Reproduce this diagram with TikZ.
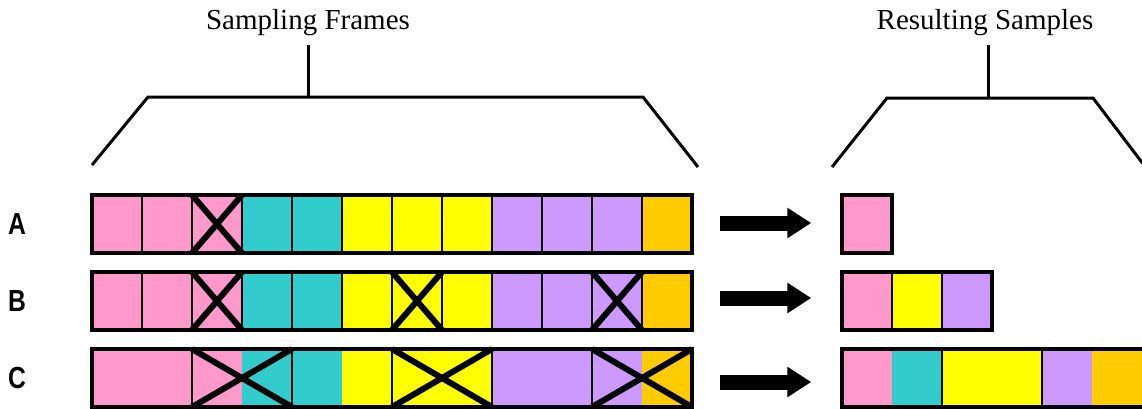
\documentclass[tikz,border=0pt]{standalone}
\usepackage{fontspec}
\setmainfont{Liberation Serif}
\newfontfamily\lblfont{Liberation Sans}
\usetikzlibrary{arrows.meta}
\definecolor{cpink}{HTML}{FF99CC}
\definecolor{cteal}{HTML}{33CCCC}
\definecolor{cyellow}{HTML}{FFFF00}
\definecolor{cpurple}{HTML}{CC99FF}
\definecolor{corange}{HTML}{FFCC00}
\begin{document}
\begin{tikzpicture}[x=1pt,y=-1pt,
  sep/.style={draw=black, line width=2.8pt},
  framebox/.style={draw=black, line width=3.5pt, rectangle, inner sep=0pt},
  cross/.style={draw=black, line width=6pt, line cap=butt},
  bracket/.style={draw=black, line width=3pt},
  bigarrow/.style={draw=black, line width=15pt, -{Triangle[length=24pt,width=29pt]}},
  title/.style={font=\fontsize{29}{34}\selectfont, inner sep=0pt},
  rowlabel/.style={font=\lblfont\bfseries\fontsize{29}{33}\selectfont, inner sep=0pt}]
\useasboundingbox (0,0) rectangle (1142,408);
\clip (0,0) rectangle (1142,408);

% titles and brackets
\node[title] (t1) at (308,23) {Sampling Frames};
\node[title] (t2) at (985,23) {Resulting Samples};
\coordinate (b1) at (308,97);
\coordinate (b2) at (988,98);
\draw[bracket] (92,165) -- (148,97) -- (643,97) -- (698,167);
\draw[bracket] (b1) -- (308,45);
\draw[bracket] (832,167) -- (887,98) -- (1093,98) -- (1150,173);
\draw[bracket] (b2) -- (988,45);

% row labels
\node[rowlabel] (lA) at (17,224) {\scalebox{0.85}[1.05]{A}};
\node[rowlabel] (lB) at (17,301) {\scalebox{0.85}[1.05]{B}};
\node[rowlabel] (lC) at (17,378) {\scalebox{0.85}[1.05]{C}};

% colour fills of the three frames
\foreach \t in {195,272,349}{
  \fill[cpink]   (92,\t)  rectangle (242,\t+58);
  \fill[cteal]   (242,\t) rectangle (342,\t+58);
  \fill[cyellow] (342,\t) rectangle (492,\t+58);
  \fill[cpurple] (492,\t) rectangle (642,\t+58);
  \fill[corange] (642,\t) rectangle (692,\t+58);
}
% separators
\foreach \t in {195,272}{
  \foreach \x in {142,192,...,642}{
    \draw[sep] (\x,\t) -- (\x,\t+58);
  }
}
\foreach \x in {192,292,...,592}{
  \draw[sep] (\x,349) -- (\x,407);
}
% crosses
\foreach \t/\a/\b in {195/192/242, 272/192/242, 272/392/442, 272/592/642,
                      349/192/292, 349/392/492, 349/592/692}{
  \draw[cross] (\a,\t) -- (\b,\t+58);
  \draw[cross] (\a,\t+58) -- (\b,\t);
}
% frames
\node[framebox, minimum width=600pt, minimum height=58pt] (rowA) at (392,224) {};
\node[framebox, minimum width=600pt, minimum height=58pt] (rowB) at (392,301) {};
\node[framebox, minimum width=600pt, minimum height=58pt] (rowC) at (392,378) {};

% resulting samples
\fill[cpink] (842,195) rectangle (892,253);
\node[framebox, minimum width=50pt, minimum height=58pt] (resA) at (867,224) {};

\fill[cpink]   (842,272) rectangle (892,330);
\fill[cyellow] (892,272) rectangle (942,330);
\fill[cpurple] (942,272) rectangle (992,330);
\draw[sep] (892,272) -- (892,330);
\draw[sep] (942,272) -- (942,330);
\node[framebox, minimum width=150pt, minimum height=58pt] (resB) at (917,301) {};

\fill[cpink]   (842,349) rectangle (892,407);
\fill[cteal]   (892,349) rectangle (942,407);
\fill[cyellow] (942,349) rectangle (1042,407);
\fill[cpurple] (1042,349) rectangle (1092,407);
\fill[corange] (1092,349) rectangle (1160,407);
\draw[sep] (942,349) -- (942,407);
\draw[sep] (1042,349) -- (1042,407);
\node[framebox, minimum width=320pt, minimum height=58pt] (resC) at (1002,378) {};

% arrows
\draw[bigarrow] ([xshift=26pt,yshift=1pt]rowA.east) -- ([xshift=-29pt,yshift=1pt]resA.west);
\draw[bigarrow] ([xshift=26pt,yshift=3pt]rowB.east) -- ([xshift=-29pt,yshift=3pt]resB.west);
\draw[bigarrow] ([xshift=26pt,yshift=-4pt]rowC.east) -- ([xshift=-29pt,yshift=-4pt]resC.west);
\end{tikzpicture}
\end{document}
